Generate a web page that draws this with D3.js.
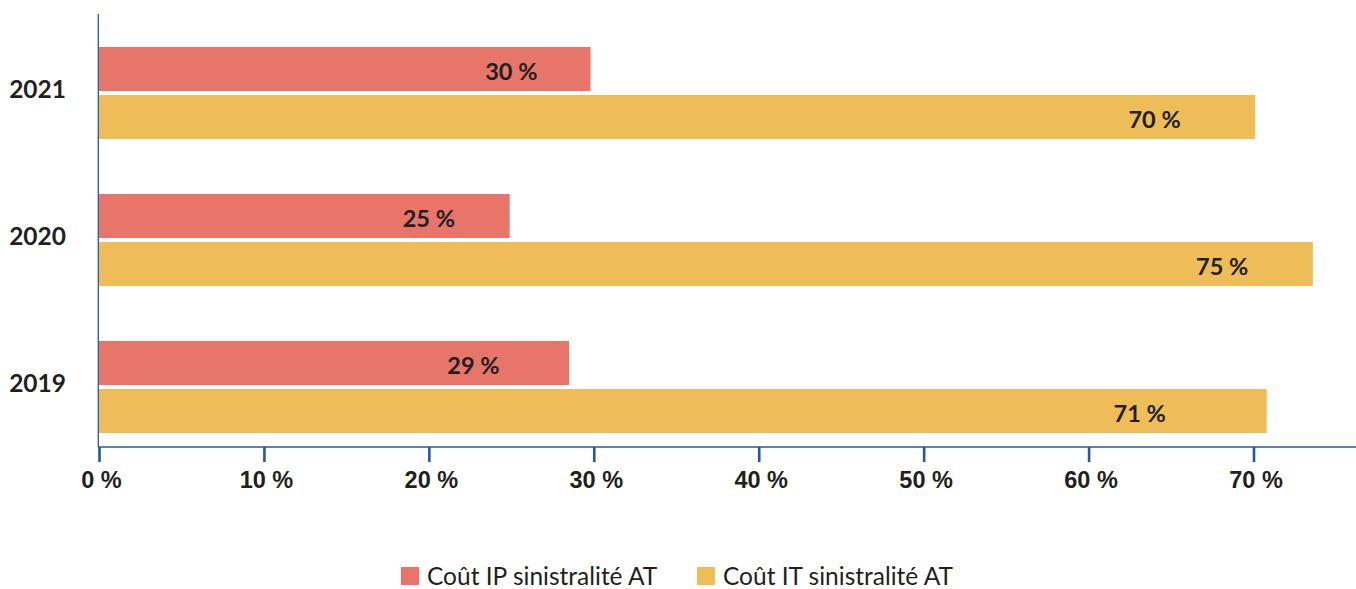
<!DOCTYPE html>
<html>
<head>
<meta charset="utf-8">
<script src="https://cdn.jsdelivr.net/npm/d3@7"></script>
<style>
  html, body { margin: 0; padding: 0; background: #fff; }
  svg { display: block; font-family: Lato, "Source Sans Pro", "Noto Sans", sans-serif; }
</style>
</head>
<body>
<svg id="chart" width="1356" height="589"></svg>
<script>
// ---- data ----
const years = ["2021", "2020", "2019"];
const seriesNames = ["Coût IP sinistralité AT", "Coût IT sinistralité AT"];
const coutIP = [29.8, 24.9, 28.5];
const coutIT = [70.1, 73.6, 70.8];
const labelsIP = ["30 %", "25 %", "29 %"];
const labelsIT = ["70 %", "75 %", "71 %"];
// where each value label is centred, in percent units
const labelAtIP = [25.0, 20.0, 22.7];
const labelAtIT = [64.0, 68.1, 63.1];
const xTicks = [0, 10, 20, 30, 40, 50, 60, 70];
const colors = ["#E8756A", "#EEBD57"];

// ---- layout ----
const svg = d3.select("#chart");
const axisColor = "#1f5aa6";
const textColor = "#231f20";
const x = d3.scaleLinear().domain([0, 70]).range([99, 1253.5]);
const y = d3.scaleBand().domain(years).range([19.5, 460.5])
  .paddingInner(55 / 147).paddingOuter(27.5 / 147);
const sub = d3.scaleBand().domain([0, 1]).range([0, y.bandwidth()]).paddingInner(4 / 48);

const rows = years.map((yr, i) => ({
  year: yr,
  bars: [
    { s: 0, v: coutIP[i], label: labelsIP[i], at: labelAtIP[i] },
    { s: 1, v: coutIT[i], label: labelsIT[i], at: labelAtIT[i] }
  ]
}));

// bars
const g = svg.append("g");
const row = g.selectAll("g.row").data(rows).join("g")
  .attr("class", "row")
  .attr("transform", d => `translate(0,${y(d.year)})`);

row.selectAll("rect").data(d => d.bars).join("rect")
  .attr("x", x(0))
  .attr("y", d => sub(d.s))
  .attr("width", d => x(d.v) - x(0))
  .attr("height", sub.bandwidth())
  .attr("fill", d => colors[d.s]);

row.selectAll("text.val").data(d => d.bars).join("text")
  .attr("class", "val")
  .attr("x", d => x(d.at))
  .attr("y", d => sub(d.s) + sub.bandwidth() / 2 + 11.3)
  .attr("text-anchor", "middle")
  .attr("font-weight", 700)
  .attr("font-size", 23.5)
  .attr("fill", textColor)
  .text(d => d.label);

// vertical axis line
svg.append("line")
  .attr("x1", 98.3).attr("x2", 98.3)
  .attr("y1", 14).attr("y2", 447)
  .attr("stroke", axisColor).attr("stroke-width", 1.3);

// y labels
svg.append("g").selectAll("text").data(years).join("text")
  .attr("x", 66)
  .attr("y", d => y(d) + y.bandwidth() / 2 + 5)
  .attr("text-anchor", "end")
  .attr("font-weight", 700)
  .attr("font-size", 24.5)
  .attr("fill", textColor)
  .text(d => d);

// x axis
const xAxis = d3.axisBottom(x).tickValues(xTicks).tickSize(15).tickPadding(0)
  .tickFormat(d => d + " %");
const ax = svg.append("g").attr("transform", "translate(0,447)").call(xAxis);
ax.select(".domain").remove();
ax.selectAll(".tick line").attr("stroke", axisColor).attr("stroke-width", 2.6);
ax.selectAll(".tick text")
  .attr("y", 41.3).attr("dy", null).attr("dx", 2)
  .attr("font-family", null)
  .attr("font-size", 23.5).attr("font-weight", 700).attr("fill", textColor);
svg.append("line")
  .attr("x1", 98).attr("x2", 1356).attr("y1", 447).attr("y2", 447)
  .attr("stroke", axisColor).attr("stroke-width", 1.4);

// legend
const legendX = [401, 697];
const lg = svg.append("g").selectAll("g").data(seriesNames).join("g")
  .attr("transform", (d, i) => `translate(${legendX[i]},567)`);
lg.append("rect").attr("width", 18).attr("height", 18).attr("fill", (d, i) => colors[i]);
lg.append("text").attr("x", 26).attr("y", 18)
  .attr("font-size", 24.5).attr("fill", textColor).text(d => d);
</script>
</body>
</html>
